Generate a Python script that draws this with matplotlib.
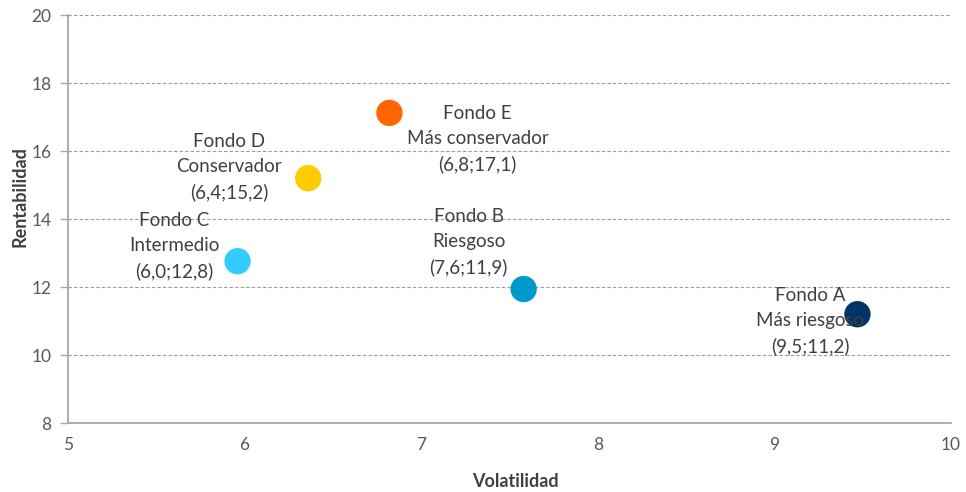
import matplotlib
matplotlib.use("Agg")
import matplotlib.pyplot as plt

# data
fondos = ["A", "B", "C", "D", "E"]
perfiles = ["Más riesgoso", "Riesgoso", "Intermedio", "Conservador", "Más conservador"]
volatilidad = [9.47, 7.58, 5.96, 6.36, 6.82]
rentabilidad = [11.2, 11.94, 12.76, 15.2, 17.12]
etiqueta_xy = ["(9,5;11,2)", "(7,6;11,9)", "(6,0;12,8)", "(6,4;15,2)", "(6,8;17,1)"]

colores = ["#003366", "#0099CC", "#33CCFF", "#FFCC00", "#FF6600"]
# label offsets in pixels (dx, dy) relative to each point
offsets = [(-47, -7), (-55, 47), (-63, 15), (-79, 11), (88, -26)]

plt.rcParams["font.family"] = ["Lato", "DejaVu Sans"]

fig = plt.figure(figsize=(9.66, 4.92), dpi=100)
ax = fig.add_axes([0.0704, 0.1402, 0.9141, 0.8293])

ax.scatter(volatilidad, rentabilidad, s=360, c=colores, zorder=3, linewidths=0)

for i in range(len(fondos)):
    txt = f"Fondo {fondos[i]}\n{perfiles[i]}\n{etiqueta_xy[i]}"
    ax.annotate(txt, (volatilidad[i], rentabilidad[i]), xytext=offsets[i],
                textcoords="offset pixels", ha="center", va="center",
                fontsize=13.5, color="#404040", linespacing=1.55, zorder=4)

ax.set_xlim(5, 10)
ax.set_ylim(8, 20)
ax.set_xticks(range(5, 11))
ax.set_yticks(range(8, 21, 2))
ax.yaxis.grid(True, linestyle=(0, (3, 2)), color="#9a9a9a", linewidth=0.8)
ax.set_axisbelow(True)

for s in ["top", "right"]:
    ax.spines[s].set_visible(False)
for s in ["left", "bottom"]:
    ax.spines[s].set_color("#a6a6a6")
    ax.spines[s].set_linewidth(1.3)

ax.tick_params(axis="x", length=0, pad=10, labelsize=12.5, colors="#595959")
ax.tick_params(axis="y", length=6, width=1, color="#a6a6a6", pad=6,
               labelsize=12.5, labelcolor="#595959")

ax.set_xlabel("Volatilidad", fontsize=13, fontweight="bold", color="#404040")
ax.set_ylabel("Rentabilidad", fontsize=13, fontweight="bold", color="#404040")
ax.xaxis.set_label_coords(0.507, -0.122)
ax.yaxis.set_label_coords(-0.045, 0.556)

fig.savefig("out.png", dpi=100)
